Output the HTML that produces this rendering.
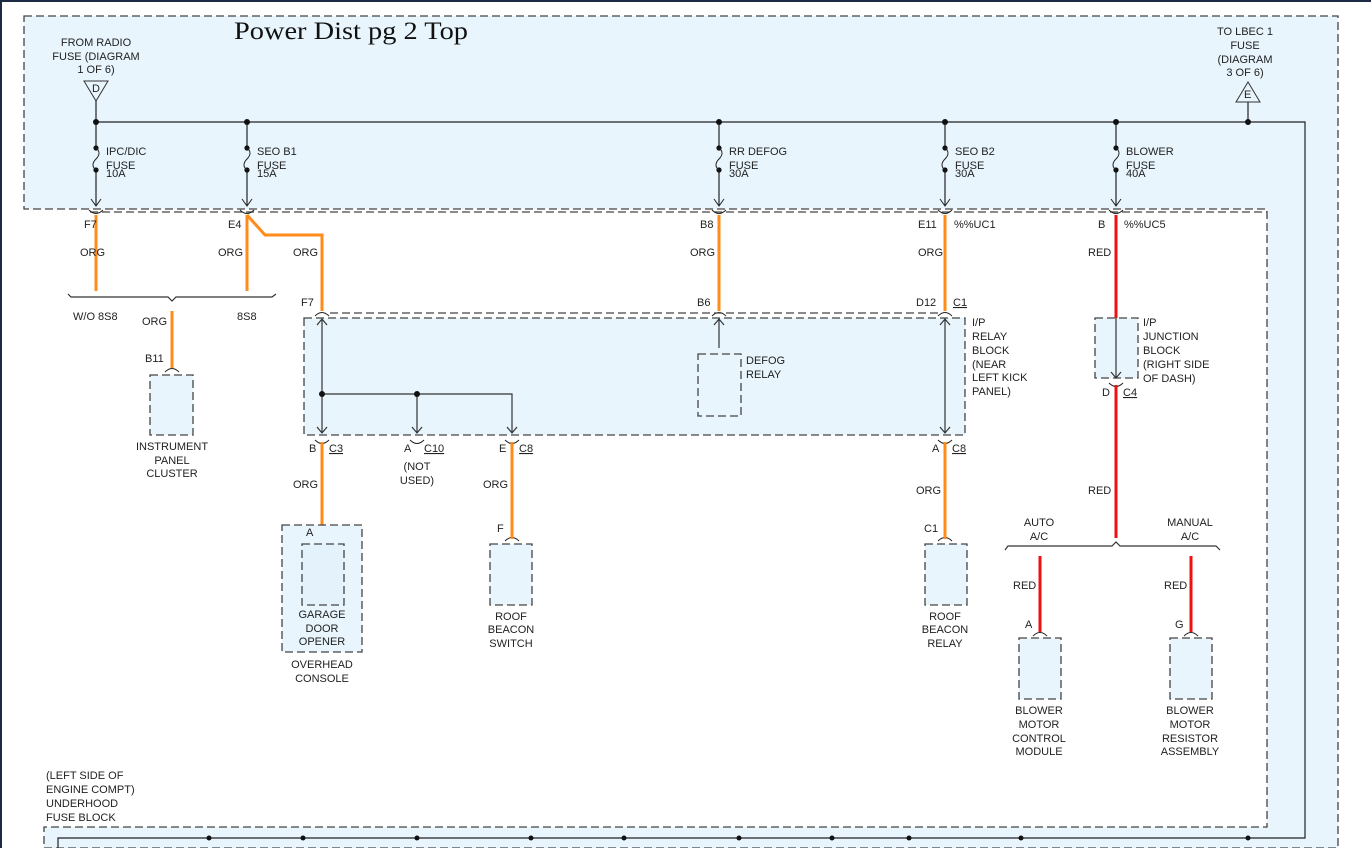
<!DOCTYPE html>
<html><head><meta charset="utf-8"><style>
html,body{margin:0;padding:0;background:#fff;}
svg{display:block;font-family:"Liberation Sans",sans-serif;}
text{font-size:11px;fill:#222;}
</style></head><body>
<svg width="1371" height="848" viewBox="0 0 1371 848">
<rect x="0" y="0" width="1371" height="848" fill="#fff"/>
<rect x="0" y="0" width="1371" height="2" fill="#1d2a44"/>
<rect x="0" y="0" width="2" height="848" fill="#1d2a44"/>
<path d="M24,16 H1338 V848 H44 V827 H1267 V209 H24 Z" fill="#e8f5fd" stroke="#444" stroke-width="1.3" stroke-dasharray="8,4"/>
<line x1="90" y1="212" x2="1267" y2="212" stroke="#444" stroke-width="1.2" stroke-dasharray="8,4"/>
<text x="234" y="39" textLength="234" lengthAdjust="spacingAndGlyphs" style="font-family:'Liberation Serif',serif;font-size:25px;fill:#111">Power Dist pg 2 Top</text>
<g text-anchor="middle">
<text x="96" y="46">FROM RADIO</text><text x="96" y="60">FUSE (DIAGRAM</text><text x="96" y="73">1 OF 6)</text>
<text x="1245" y="35">TO LBEC 1</text><text x="1245" y="49">FUSE</text><text x="1245" y="63">(DIAGRAM</text><text x="1245" y="76">3 OF 6)</text>
</g>
<path d="M84,81 H108 L96,101 Z" fill="none" stroke="#333"/>
<text x="92" y="92">D</text>
<path d="M1236,102 H1260 L1248,82 Z" fill="none" stroke="#333"/>
<text x="1244" y="98">E</text>
<g stroke="#222" stroke-width="1.2" fill="none">
<path d="M96,101 V205 M96,122 H1305 V838 H58 V848"/>
<path d="M1248,102 V122"/>
<path d="M247,122 V205 M719,122 V205 M945,122 V205 M1116,122 V205"/>
</g>
<g fill="#111">
<circle cx="96" cy="122" r="3"/><circle cx="247" cy="122" r="3"/><circle cx="719" cy="122" r="3"/><circle cx="945" cy="122" r="3"/><circle cx="1116" cy="122" r="3"/><circle cx="1248" cy="122" r="3"/>
<circle cx="209" cy="838" r="2.5"/><circle cx="303" cy="838" r="2.5"/><circle cx="417" cy="838" r="2.5"/><circle cx="531" cy="838" r="2.5"/><circle cx="624" cy="838" r="2.5"/><circle cx="739" cy="838" r="2.5"/><circle cx="832" cy="838" r="2.5"/><circle cx="909" cy="838" r="2.5"/><circle cx="1021" cy="838" r="2.5"/><circle cx="1248" cy="838" r="2.5"/>
</g>
<g>
<g transform="translate(96,0)"><rect x="-5" y="147" width="10" height="25" fill="#e8f5fd"/><circle cx="0" cy="148" r="2.6" fill="#111"/><circle cx="0" cy="170" r="2.6" fill="#111"/><path d="M0,148 c4,3 4,7 0,11 c-4,4 -4,8 0,11" stroke="#222" fill="none"/><path d="M-5,199 L0,206 L5,199" stroke="#222" fill="none"/></g>
<g transform="translate(247,0)"><rect x="-5" y="147" width="10" height="25" fill="#e8f5fd"/><circle cx="0" cy="148" r="2.6" fill="#111"/><circle cx="0" cy="170" r="2.6" fill="#111"/><path d="M0,148 c4,3 4,7 0,11 c-4,4 -4,8 0,11" stroke="#222" fill="none"/><path d="M-5,199 L0,206 L5,199" stroke="#222" fill="none"/></g>
<g transform="translate(719,0)"><rect x="-5" y="147" width="10" height="25" fill="#e8f5fd"/><circle cx="0" cy="148" r="2.6" fill="#111"/><circle cx="0" cy="170" r="2.6" fill="#111"/><path d="M0,148 c4,3 4,7 0,11 c-4,4 -4,8 0,11" stroke="#222" fill="none"/><path d="M-5,199 L0,206 L5,199" stroke="#222" fill="none"/></g>
<g transform="translate(945,0)"><rect x="-5" y="147" width="10" height="25" fill="#e8f5fd"/><circle cx="0" cy="148" r="2.6" fill="#111"/><circle cx="0" cy="170" r="2.6" fill="#111"/><path d="M0,148 c4,3 4,7 0,11 c-4,4 -4,8 0,11" stroke="#222" fill="none"/><path d="M-5,199 L0,206 L5,199" stroke="#222" fill="none"/></g>
<g transform="translate(1116,0)"><rect x="-5" y="147" width="10" height="25" fill="#e8f5fd"/><circle cx="0" cy="148" r="2.6" fill="#111"/><circle cx="0" cy="170" r="2.6" fill="#111"/><path d="M0,148 c4,3 4,7 0,11 c-4,4 -4,8 0,11" stroke="#222" fill="none"/><path d="M-5,199 L0,206 L5,199" stroke="#222" fill="none"/></g>
</g>
<text x="106" y="155">IPC/DIC</text><text x="106" y="169">FUSE</text><text x="106" y="177">10A</text>
<text x="257" y="155">SEO B1</text><text x="257" y="169">FUSE</text><text x="257" y="177">15A</text>
<text x="729" y="155">RR DEFOG</text><text x="729" y="169">FUSE</text><text x="729" y="177">30A</text>
<text x="955" y="155">SEO B2</text><text x="955" y="169">FUSE</text><text x="955" y="177">30A</text>
<text x="1126" y="155">BLOWER</text><text x="1126" y="169">FUSE</text><text x="1126" y="177">40A</text>
<g stroke="#222" fill="none">
<path d="M89,210 Q96,217 103,210 M240,210 Q247,217 254,210 M712,210 Q719,217 726,210 M938,210 Q945,217 952,210 M1109,210 Q1116,217 1123,210"/>
<path d="M315,316 Q322,309 329,316 M712,316 Q719,309 726,316 M938,316 Q945,309 952,316"/>
<path d="M165,372 Q172,365 179,372 M712,353 Q719,346 726,353"/>
<path d="M315,440 Q322,447 329,440 M410,440 Q417,447 424,440 M505,440 Q512,447 519,440 M938,440 Q945,447 952,440 M1109,383 Q1116,390 1123,383"/>
<path d="M315,541 Q322,534 329,541 M505,541 Q512,534 519,541 M938,541 Q945,534 952,541 M1033,636 Q1040,629 1047,636 M1184,636 Q1191,629 1198,636"/>
</g>
<g stroke="#ff8c1a" stroke-width="3" fill="none">
<path d="M96,215 V291 M247,215 V291 M247,215 L265,235 H322 V311 M172,311 V368 M719,215 V311 M945,215 V311"/>
<path d="M322,442 V539 M512,442 V539 M945,442 V539"/>
</g>
<g stroke="#f01010" stroke-width="3" fill="none">
<path d="M1116,215 V318 M1116,385 V538 M1040,556 V632 M1191,556 V632"/>
</g>
<g stroke="#333" stroke-width="1.2" fill="none">
<path d="M68,294 L71,297 H168 L172,301 L176,297 H272 L276,294"/>
<path d="M1005,550 L1008,546 H1112 L1116,542 L1120,546 H1216 L1220,550"/>
</g>
<text x="80" y="256">ORG</text><text x="84" y="228">F7</text>
<text x="218" y="256">ORG</text><text x="228" y="228">E4</text>
<text x="293" y="256">ORG</text><text x="301" y="306">F7</text>
<text x="73" y="320">W/O 8S8</text><text x="237" y="320">8S8</text><text x="142" y="325">ORG</text>
<text x="145" y="362">B11</text>
<rect x="304" y="318" width="661" height="117" fill="#e8f5fd" stroke="#444" stroke-width="1.3" stroke-dasharray="8,4"/>
<line x1="330" y1="313" x2="940" y2="313" stroke="#444" stroke-width="1.2" stroke-dasharray="8,4"/>
<g stroke="#333" stroke-width="1.2" fill="none">
<path d="M322,319 V433 M322,394 H512 V433 M417,394 V433"/>
<path d="M317,325 L322,319 L327,325 M317,427 L322,433 L327,427 M412,427 L417,433 L422,427 M507,427 L512,433 L517,427"/>
<path d="M945,319 V433 M940,325 L945,319 L950,325 M940,427 L945,433 L950,427"/>
<path d="M719,319 V348 M714,325 L719,319 L724,325"/>
</g>
<circle cx="322" cy="394" r="3" fill="#111"/><circle cx="417" cy="394" r="3" fill="#111"/>
<rect x="698" y="354" width="43" height="62" fill="#e8f5fd" stroke="#444" stroke-width="1.3" stroke-dasharray="8,4"/>
<text x="746" y="364">DEFOG</text><text x="746" y="378">RELAY</text>
<text x="690" y="256">ORG</text><text x="700" y="228">B8</text><text x="697" y="306">B6</text>
<text x="918" y="256">ORG</text><text x="918" y="228">E11</text><text x="954" y="228">%%UC1</text>
<text x="916" y="306">D12</text><text x="953" y="306" text-decoration="underline">C1</text>
<text x="972" y="326">I/P</text><text x="972" y="340">RELAY</text><text x="972" y="354">BLOCK</text><text x="972" y="368">(NEAR</text><text x="972" y="381">LEFT KICK</text><text x="972" y="395">PANEL)</text>
<text x="1098" y="228">B</text><text x="1124" y="228">%%UC5</text><text x="1088" y="256">RED</text>
<rect x="1095" y="318" width="43" height="60" fill="#e8f5fd" stroke="#444" stroke-width="1.3" stroke-dasharray="8,4"/>
<g stroke="#333" stroke-width="1.2" fill="none"><path d="M1116,318 V378 M1111,372 L1116,378 L1121,372"/></g>
<text x="1143" y="326">I/P</text><text x="1143" y="340">JUNCTION</text><text x="1143" y="354">BLOCK</text><text x="1143" y="368">(RIGHT SIDE</text><text x="1143" y="382">OF DASH)</text>
<text x="1102" y="396">D</text><text x="1123" y="396" text-decoration="underline">C4</text>
<text x="1088" y="494">RED</text>
<text x="309" y="452">B</text><text x="329" y="452" text-decoration="underline">C3</text>
<text x="404" y="452">A</text><text x="424" y="452" text-decoration="underline">C10</text>
<text x="499" y="452">E</text><text x="519" y="452" text-decoration="underline">C8</text>
<text x="932" y="452">A</text><text x="952" y="452" text-decoration="underline">C8</text>
<g text-anchor="middle"><text x="417" y="470">(NOT</text><text x="417" y="484">USED)</text></g>
<text x="293" y="488">ORG</text><text x="483" y="488">ORG</text><text x="916" y="494">ORG</text>
<text x="172" y="450" text-anchor="middle">INSTRUMENT</text><text x="172" y="464" text-anchor="middle">PANEL</text><text x="172" y="477" text-anchor="middle">CLUSTER</text>
<rect x="150" y="375" width="43" height="60" fill="#e8f5fd" stroke="#444" stroke-width="1.3" stroke-dasharray="8,4"/>
<rect x="282" y="525" width="80" height="127" fill="#e8f5fd" stroke="#444" stroke-width="1.3" stroke-dasharray="8,4"/>
<rect x="302" y="544" width="42" height="61" fill="#e3f2fb" stroke="#444" stroke-width="1.3" stroke-dasharray="8,4"/>
<rect x="490" y="544" width="42" height="61" fill="#e8f5fd" stroke="#444" stroke-width="1.3" stroke-dasharray="8,4"/>
<rect x="925" y="544" width="42" height="61" fill="#e8f5fd" stroke="#444" stroke-width="1.3" stroke-dasharray="8,4"/>
<rect x="1019" y="638" width="42" height="61" fill="#e8f5fd" stroke="#444" stroke-width="1.3" stroke-dasharray="8,4"/>
<rect x="1170" y="638" width="42" height="61" fill="#e8f5fd" stroke="#444" stroke-width="1.3" stroke-dasharray="8,4"/>
<text x="306" y="536">A</text><text x="497" y="532">F</text><text x="924" y="532">C1</text><text x="1025" y="628">A</text><text x="1175" y="628">G</text>
<g text-anchor="middle">
<text x="322" y="618">GARAGE</text><text x="322" y="632">DOOR</text><text x="322" y="645">OPENER</text>
<text x="322" y="668">OVERHEAD</text><text x="322" y="682">CONSOLE</text>
<text x="511" y="620">ROOF</text><text x="511" y="633">BEACON</text><text x="511" y="647">SWITCH</text>
<text x="945" y="620">ROOF</text><text x="945" y="633">BEACON</text><text x="945" y="647">RELAY</text>
<text x="1039" y="526">AUTO</text><text x="1039" y="540">A/C</text>
<text x="1190" y="526">MANUAL</text><text x="1190" y="540">A/C</text>
<text x="1039" y="714">BLOWER</text><text x="1039" y="728">MOTOR</text><text x="1039" y="742">CONTROL</text><text x="1039" y="755">MODULE</text>
<text x="1190" y="714">BLOWER</text><text x="1190" y="728">MOTOR</text><text x="1190" y="742">RESISTOR</text><text x="1190" y="755">ASSEMBLY</text>
</g>
<text x="1013" y="589">RED</text><text x="1164" y="589">RED</text>
<text x="46" y="779">(LEFT SIDE OF</text><text x="46" y="793">ENGINE COMPT)</text><text x="46" y="807">UNDERHOOD</text><text x="46" y="821">FUSE BLOCK</text>
</svg>
</body></html>
